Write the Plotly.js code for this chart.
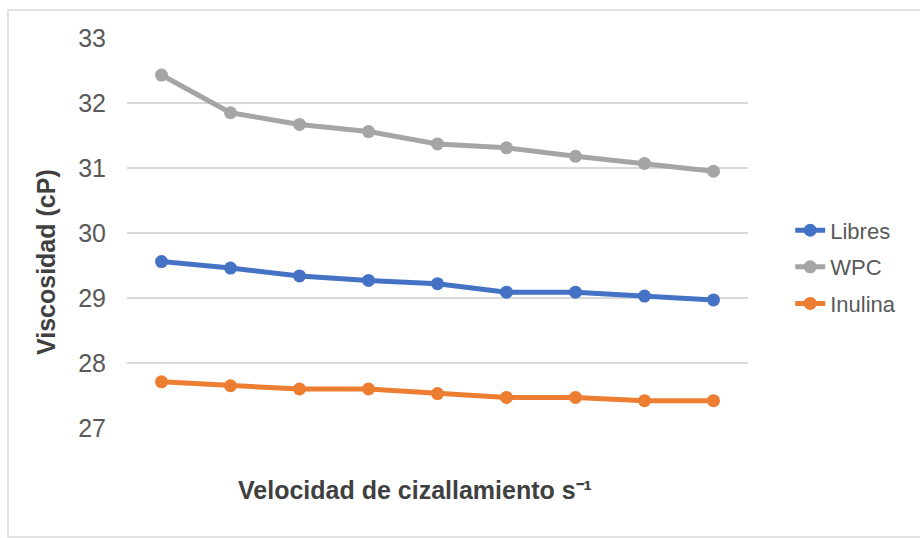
<!DOCTYPE html>
<html>
<head>
<meta charset="utf-8">
<script src="https://cdn.plot.ly/plotly-3.0.1.min.js"></script>
<style>html,body{margin:0;padding:0;background:#fff;}#chart{width:920px;height:538px;}</style>
</head>
<body>
<div id="chart"></div>
<script>
var categories = [1, 2, 3, 4, 5, 6, 7, 8, 9];
var libres = [29.56, 29.46, 29.34, 29.27, 29.22, 29.09, 29.09, 29.03, 28.97];
var wpc = [32.43, 31.85, 31.67, 31.56, 31.37, 31.31, 31.18, 31.07, 30.95];
var inulina = [27.71, 27.65, 27.60, 27.60, 27.53, 27.47, 27.47, 27.42, 27.42];
var seriesNames = ["Libres", "WPC", "Inulina"];
var xTitle = "Velocidad de cizallamiento s\u207B\u00B9";
var yTitle = "Viscosidad (cP)";

var colors = ["#4472C4", "#A5A5A5", "#ED7D31"];
var series = [libres, wpc, inulina];
var xs = categories.map(function(c, i){ return i; });

var traces = series.map(function(s, k){
  return {
    x: xs, y: s, name: seriesNames[k], type: "scatter", mode: "lines+markers",
    legendgroup: "g" + k,
    line: {color: colors[k], width: 5},
    marker: {color: colors[k], size: 13},
    hoverinfo: "skip"
  };
});

var layout = {
  width: 920, height: 538,
  margin: {l: 127, r: 172, t: 38, b: 110},
  paper_bgcolor: "#ffffff", plot_bgcolor: "#ffffff",
  font: {family: "Liberation Sans, Arial, sans-serif", color: "#595959"},
  showlegend: true,
  legend: {x: 1.068, xanchor: "left", y: 0.413, yanchor: "middle",
    font: {size: 22, color: "#595959", family: "Liberation Sans Narrow, Liberation Sans, Arial, sans-serif"},
    tracegroupgap: 5, bgcolor: "rgba(0,0,0,0)"},
  xaxis: {range: [-0.5, 8.5], showticklabels: false, showgrid: false, zeroline: false,
    showline: false, ticks: "", fixedrange: true},
  yaxis: {range: [27, 33], dtick: 1, tick0: 27, showgrid: true, gridcolor: "#d9d9d9", gridwidth: 1.5,
    zeroline: false, showline: false, ticks: "", ticklabelstandoff: 20,
    tickfont: {size: 25, color: "#595959"}, fixedrange: true},
  annotations: [
    {text: "<b>" + xTitle + "</b>", xref: "paper", yref: "paper",
     x: (415 - 127) / 621, y: (428 - 490) / 390, xanchor: "center", yanchor: "middle",
     showarrow: false, font: {size: 25, color: "#404040"}},
    {text: "<b>" + yTitle + "</b>", xref: "paper", yref: "paper", textangle: -90,
     x: (46 - 127) / 621, y: (428 - 262) / 390, xanchor: "center", yanchor: "middle",
     showarrow: false, font: {size: 25, color: "#404040"}}
  ],
  shapes: [
    {type: "rect", xref: "paper", yref: "paper",
     x0: (8 - 127) / 621, x1: (930 - 127) / 621, y0: (428 - 537) / 390, y1: (428 - 10) / 390,
     line: {color: "#d9d9d9", width: 1.5}, fillcolor: "rgba(0,0,0,0)", layer: "below"}
  ]
};

Plotly.newPlot("chart", traces, layout, {displayModeBar: false, staticPlot: true});
</script>
</body>
</html>
